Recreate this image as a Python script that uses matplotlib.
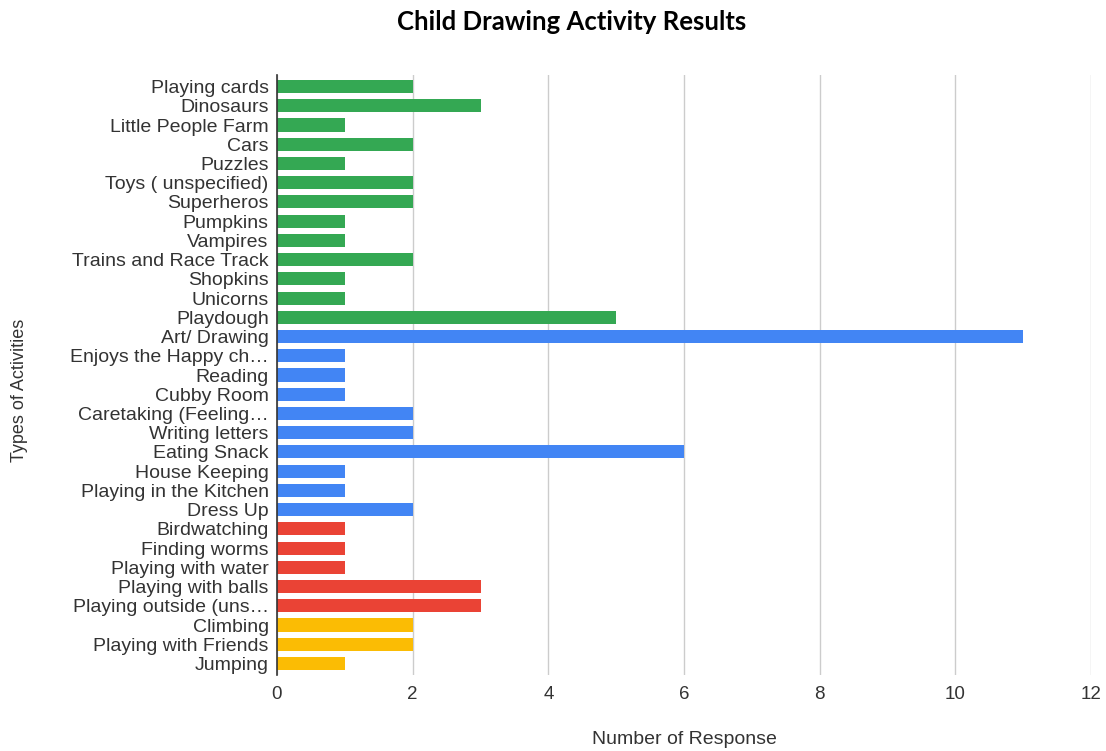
import matplotlib
matplotlib.use("Agg")
import matplotlib.pyplot as plt

categories = [
    "Playing cards", "Dinosaurs", "Little People Farm", "Cars", "Puzzles",
    "Toys ( unspecified)", "Superheros", "Pumpkins", "Vampires",
    "Trains and Race Track", "Shopkins", "Unicorns", "Playdough",
    "Art/ Drawing", "Enjoys the Happy ch\u2026", "Reading", "Cubby Room",
    "Caretaking (Feeling\u2026", "Writing letters", "Eating Snack",
    "House Keeping", "Playing in the Kitchen", "Dress Up",
    "Birdwatching", "Finding worms", "Playing with water",
    "Playing with balls", "Playing outside (uns\u2026",
    "Climbing", "Playing with Friends", "Jumping",
]
values = [2, 3, 1, 2, 1, 2, 2, 1, 1, 2, 1, 1, 5,
          11, 1, 1, 1, 2, 2, 6, 1, 1, 2,
          1, 1, 1, 3, 3,
          2, 2, 1]
groups = ["green"] * 13 + ["blue"] * 10 + ["red"] * 5 + ["yellow"] * 3
palette = {"green": "#34A853", "blue": "#4285F4", "red": "#EA4335", "yellow": "#FBBC04"}
xticks = [0, 2, 4, 6, 8, 10, 12]

plt.rcParams['font.family'] = ['Liberation Sans', 'DejaVu Sans']

fig = plt.figure(figsize=(11.06, 7.51), dpi=100)
ax = fig.add_axes([277/1106, 1-675/751, (1091-277)/1106, 600/751])

y = list(range(len(categories)))
ax.barh(y, values, height=0.68, color=[palette[g] for g in groups], zorder=3)
ax.set_ylim(len(categories) - 0.4, -0.6)
ax.set_xlim(0, 12)
ax.set_xticks(xticks)
ax.set_xticklabels([str(t) for t in xticks], fontsize=13.5, color="#333333")
ax.set_yticks(y)
ax.set_yticklabels(categories, fontsize=14, color="#333333")
ax.tick_params(axis='both', length=0)
ax.tick_params(axis='y', pad=6)
ax.tick_params(axis='x', pad=8)
ax.grid(axis='x', color="#cccccc", linewidth=1, zorder=0)
for s in ["top", "right", "bottom"]:
    ax.spines[s].set_visible(False)
ax.spines["left"].set_color("#333333")
ax.spines["left"].set_linewidth(1.2)
ax.spines["left"].set_zorder(4)

fig.text(572/1106, 1-22/751, "Child Drawing Activity Results", ha="center", va="center",
         fontsize=18.5, fontweight="bold", family=["Lato", "DejaVu Sans"])
fig.text(684/1106, 1-740/751, "Number of Response", ha="center", va="center",
         fontsize=14, color="#333333")
fig.text(20/1106, 1-390/751, "Types of Activities", ha="center", va="center",
         rotation=90, fontsize=13, color="#333333")

fig.savefig("out.png", dpi=100)
